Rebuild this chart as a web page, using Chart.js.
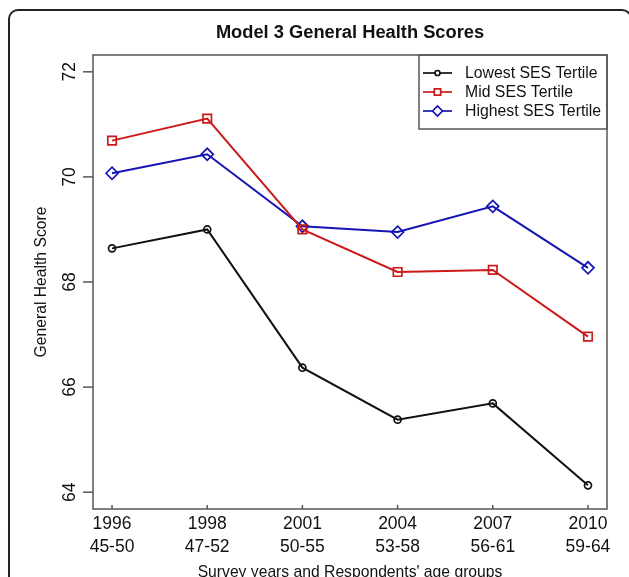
<!DOCTYPE html>
<html>
<head>
<meta charset="utf-8">
<script src="https://cdn.jsdelivr.net/npm/chart.js@4.4.1/dist/chart.umd.min.js"></script>
<style>
  html, body { margin: 0; padding: 0; background: #fff; }
  #wrap { width: 629px; height: 577px; position: relative; }
</style>
</head>
<body>
<div id="wrap"><canvas id="chart" width="629" height="577"></canvas></div>
<script>
// datos
const years = ['1996', '1998', '2001', '2004', '2007', '2010'];
const ageGroups = ['45-50', '47-52', '50-55', '53-58', '56-61', '59-64'];
const yTicks = [64, 66, 68, 70, 72];

const lowestSES = [68.64, 69.00, 66.37, 65.38, 65.69, 64.13];
const midSES = [70.69, 71.11, 69.00, 68.19, 68.23, 66.96];
const highestSES = [70.07, 70.43, 69.06, 68.95, 69.44, 68.27];

const seriesNames = ['Lowest SES Tertile', 'Mid SES Tertile', 'Highest SES Tertile'];
const seriesColors = ['#111111', '#cc1a1a', '#1414b4'];
const seriesPoints = ['circle', 'rect', 'rectRot'];
const pointSizes = [3.5, 6, 6];
const legendSizes = [2.5, 4.5, 5];

const FONT = 'Arial, "Liberation Sans", sans-serif';

function toPoints(values) {
    return values.map((v, i) => ({x: i + 1, y: v}));
}

function makeDataset(idx, values) {
    return {
        label: seriesNames[idx],
        data: toPoints(values),
        borderColor: seriesColors[idx],
        backgroundColor: 'transparent',
        borderWidth: 2,
        pointStyle: seriesPoints[idx],
        pointRadius: pointSizes[idx],
        pointBorderWidth: 1.7,
        pointBorderColor: seriesColors[idx],
        pointBackgroundColor: 'transparent',
        tension: 0
    };
}

// dibuja marco, ejes estilo R y leyenda
const rStyle = {
    id: 'rStyle',
    afterDraw(chart) {
        const ctx = chart.ctx;
        const a = chart.chartArea;
        const xs = chart.scales.x, ys = chart.scales.y;
        ctx.save();

        // marco exterior redondeado
        ctx.strokeStyle = '#222';
        ctx.lineWidth = 2;
        ctx.beginPath();
        ctx.roundRect(9, 10, 622, 620, 9);
        ctx.stroke();

        // caja del gráfico
        ctx.strokeStyle = '#555';
        ctx.lineWidth = 1.5;
        ctx.strokeRect(a.left, a.top, a.right - a.left, a.bottom - a.top);

        // ticks eje y (afuera) y etiquetas rotadas
        ctx.fillStyle = '#111';
        ctx.font = '17.5px ' + FONT;
        ctx.textAlign = 'center';
        ctx.textBaseline = 'middle';
        yTicks.forEach(t => {
            const py = ys.getPixelForValue(t);
            ctx.beginPath();
            ctx.moveTo(a.left - 10, py);
            ctx.lineTo(a.left, py);
            ctx.stroke();
            ctx.save();
            ctx.translate(70, py);
            ctx.rotate(-Math.PI / 2);
            ctx.fillText(String(t), 0, 0);
            ctx.restore();
        });

        // ticks eje x (adentro) y etiquetas de dos líneas
        ctx.textBaseline = 'alphabetic';
        years.forEach((yr, i) => {
            const px = xs.getPixelForValue(i + 1);
            ctx.beginPath();
            ctx.moveTo(px, a.bottom);
            ctx.lineTo(px, a.bottom - 4);
            ctx.stroke();
            ctx.fillText(yr, px, 529);
            ctx.fillText(ageGroups[i], px, 552);
        });

        // títulos de ejes
        ctx.font = '15.7px ' + FONT;
        ctx.fillText("Survey years and Respondents' age groups", (a.left + a.right) / 2, 577);
        ctx.save();
        ctx.translate(42, 282);
        ctx.rotate(-Math.PI / 2);
        ctx.textBaseline = 'middle';
        ctx.fillText('General Health Score', 0, 0);
        ctx.restore();

        // leyenda
        const lx = 419, ly = a.top;
        ctx.strokeStyle = '#555';
        ctx.lineWidth = 1.5;
        ctx.strokeRect(lx, ly, a.right - lx, 129 - ly);
        const rows = [73, 92, 111];
        ctx.font = '15.8px ' + FONT;
        ctx.textAlign = 'left';
        ctx.textBaseline = 'middle';
        seriesNames.forEach((name, i) => {
            const y = rows[i];
            ctx.strokeStyle = seriesColors[i];
            ctx.lineWidth = 1.7;
            ctx.beginPath();
            ctx.moveTo(423, y);
            ctx.lineTo(452, y);
            ctx.stroke();
            ctx.fillStyle = '#fff';
            Chart.helpers.drawPoint(ctx, {
                pointStyle: seriesPoints[i],
                radius: legendSizes[i],
                borderWidth: 1.5,
                rotation: 0
            }, 437.5, y);
            ctx.fillStyle = '#111';
            ctx.fillText(name, 465, y + 1);
        });

        ctx.restore();
    }
};

new Chart(document.getElementById('chart'), {
    type: 'line',
    data: {
        datasets: [
            makeDataset(0, lowestSES),
            makeDataset(1, midSES),
            makeDataset(2, highestSES)
        ]
    },
    options: {
        responsive: false,
        animation: false,
        layout: {padding: {left: 93, top: 55, right: 22, bottom: 68}},
        scales: {
            x: {type: 'linear', min: 0.8, max: 6.2, display: false},
            y: {type: 'linear', min: 63.68, max: 72.32, display: false}
        },
        plugins: {
            legend: {display: false},
            tooltip: {enabled: false},
            title: {display: false}
        }
    },
    plugins: [rStyle, {
        id: 'titulo',
        afterDraw(chart) {
            const ctx = chart.ctx;
            ctx.save();
            ctx.fillStyle = '#111';
            ctx.font = 'bold 18.3px ' + FONT;
            ctx.textAlign = 'center';
            ctx.textBaseline = 'middle';
            ctx.fillText('Model 3 General Health Scores', (chart.chartArea.left + chart.chartArea.right) / 2, 33);
            ctx.restore();
        }
    }]
});
</script>
</body>
</html>
